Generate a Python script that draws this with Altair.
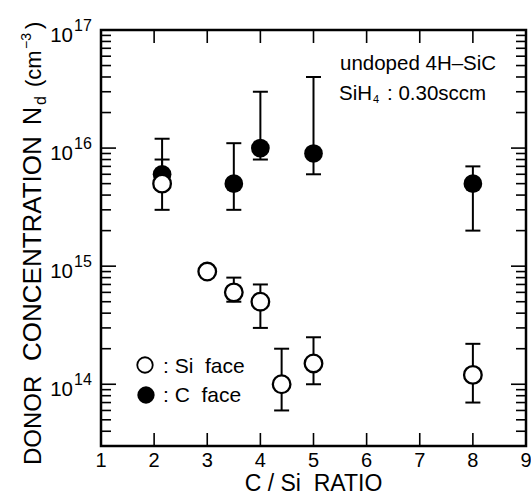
import altair as alt
import pandas as pd

# ---------------- data ----------------
si_x = [2.15, 3.0, 3.5, 4.0, 4.4, 5.0, 8.0]
si_y = [5e15, 9e14, 6e14, 5e14, 1.0e14, 1.5e14, 1.2e14]
si_lo = [3e15, None, 5e14, 3e14, 6e13, 1.0e14, 7e13]
si_hi = [8e15, None, 8e14, 7e14, 2e14, 2.5e14, 2.2e14]

c_x = [2.15, 3.5, 4.0, 5.0, 8.0]
c_y = [6e15, 5e15, 1e16, 9e15, 5e15]
c_lo = [6e15, 3e15, 8e15, 6e15, 2e15]
c_hi = [1.2e16, 1.1e16, 3e16, 4e16, 7e15]

x_tick_values = [1, 2, 3, 4, 5, 6, 7, 8, 9]
x_tick_labels = ["1", "2", "3", "4", "5", "6", "7", "8", "9"]
y_decades = [1e14, 1e15, 1e16, 1e17]
y_exponents = ["14", "15", "16", "17"]
y_minor = [k * 10.0 ** n for n in [13, 14, 15, 16] for k in range(2, 10) if k * 10.0 ** n >= 4e13]

NB = "\u00a0"
legend_labels = [":" + NB + "Si" + NB * 2 + "face", ":" + NB + "C" + NB * 2 + "face"]
note_line1 = "undoped 4H\u2013SiC"

FONT = "Liberation Sans"
W, H = 425, 416

xs = alt.Scale(domain=[1, 9], nice=False, zero=False)
ys = alt.Scale(type="log", domain=[3e13, 1e17], nice=False)

si_df = pd.DataFrame({"x": si_x, "y": si_y, "lo": si_lo, "hi": si_hi})
c_df = pd.DataFrame({"x": c_x, "y": c_y, "lo": c_lo, "hi": c_hi})
err_df = pd.concat([si_df, c_df]).dropna()
cap_df = pd.concat([
    err_df[["x", "lo"]].rename(columns={"lo": "v"}),
    err_df[["x", "hi"]].rename(columns={"hi": "v"}),
])

dec_df = pd.DataFrame({"v": y_decades, "e": y_exponents})
minor_df = pd.DataFrame({"v": y_minor})
xt_df = pd.DataFrame({"v": x_tick_values, "t": x_tick_labels})
xt_inner = xt_df[(xt_df.v > 1) & (xt_df.v < 9)]
one = pd.DataFrame({"a": [0]})

X = lambda f: alt.X(f, type="quantitative", scale=xs, axis=None)
Y = lambda f: alt.Y(f, type="quantitative", scale=ys, axis=None)

layers = []

# --- inward ticks ---
tick_style = dict(color="black", strokeWidth=1.6)
for (x0, x1, dfm) in [(0, 10, minor_df), (0, 15, dec_df), (W, W - 10, minor_df), (W, W - 15, dec_df)]:
    layers.append(alt.Chart(dfm).mark_rule(**tick_style).encode(
        y=Y("v"), x=alt.value(x0), x2=alt.value(x1)))
for (y0, y1) in [(0, 13), (H, H - 13)]:
    layers.append(alt.Chart(xt_inner).mark_rule(**tick_style).encode(
        x=X("v"), y=alt.value(y0), y2=alt.value(y1)))

# --- tick labels ---
layers.append(alt.Chart(xt_df).mark_text(font=FONT, fontSize=20, baseline="alphabetic", align="center", dy=21).encode(
    x=X("v"), y=alt.value(H), text="t:N"))
layers.append(alt.Chart(dec_df).mark_text(text="10", font=FONT, fontSize=20.5, baseline="alphabetic", align="right", dy=12).encode(
    y=Y("v"), x=alt.value(-28)))
layers.append(alt.Chart(dec_df).mark_text(font=FONT, fontSize=16, baseline="alphabetic", align="left", dy=1).encode(
    y=Y("v"), x=alt.value(-27), text="e:N"))

# --- axis titles ---
layers.append(alt.Chart(one).mark_text(text="C" + NB + "/" + NB + "Si" + NB * 2 + "RATIO", font=FONT, fontSize=23,
                                       align="center", baseline="alphabetic").encode(
    x=alt.value(W / 2), y=alt.value(H + 45)))
ytitle_parts = [
    ("DONOR", 24, -60, 435),
    ("CONCENTRATION", 26, -60, 331),
    ("N", 25, -60, 95),
    ("d", 16, -55, 75),
    ("(cm", 22, -60, 57),
    ("\u22123", 14, -70, 19),
    (")", 22, -60, -1),
]
for (txt, fs, px, py) in ytitle_parts:
    layers.append(alt.Chart(one).mark_text(text=txt, font=FONT, fontSize=fs, angle=270, align="left", baseline="alphabetic").encode(
        x=alt.value(px), y=alt.value(py)))

# --- annotation ---
layers.append(alt.Chart(one).mark_text(text=note_line1, font=FONT, fontSize=20.5, align="left", baseline="alphabetic").encode(
    x=alt.value(239), y=alt.value(40)))
layers.append(alt.Chart(one).mark_text(text="SiH", font=FONT, fontSize=20.5, align="left", baseline="alphabetic").encode(
    x=alt.value(238), y=alt.value(70)))
layers.append(alt.Chart(one).mark_text(text="4", font=FONT, fontSize=11, align="left", baseline="alphabetic").encode(
    x=alt.value(272), y=alt.value(73)))
layers.append(alt.Chart(one).mark_text(text=":" + NB + "0.30sccm", font=FONT, fontSize=20.5, align="left", baseline="alphabetic").encode(
    x=alt.value(286), y=alt.value(70)))

# --- legend ---
layers.append(alt.Chart(one).mark_point(shape="circle", filled=True, fill="white", stroke="black", strokeWidth=1.8, size=240, opacity=1).encode(
    x=alt.value(44), y=alt.value(335)))
layers.append(alt.Chart(one).mark_circle(color="black", size=300, opacity=1).encode(
    x=alt.value(45), y=alt.value(365)))
for i, lab in enumerate(legend_labels):
    layers.append(alt.Chart(one).mark_text(text=lab, font=FONT, fontSize=21, align="left", baseline="alphabetic").encode(
        x=alt.value(62), y=alt.value(343 + 29 * i)))

# --- error bars ---
layers.append(alt.Chart(err_df).mark_rule(color="black", strokeWidth=2).encode(
    x=X("x"), y=Y("lo"), y2="hi"))
layers.append(alt.Chart(cap_df).mark_tick(orient="horizontal", color="black", size=15, thickness=2, opacity=1).encode(
    x=X("x"), y=Y("v")))

# --- data points ---
layers.append(alt.Chart(c_df).mark_circle(color="black", size=350, opacity=1).encode(
    x=X("x"), y=Y("y")))
layers.append(alt.Chart(si_df).mark_point(shape="circle", filled=True, fill="white", stroke="black", strokeWidth=2.3, size=310, opacity=1).encode(
    x=X("x"), y=Y("y")))

chart = alt.layer(*layers).properties(
    width=W, height=H,
    autosize=alt.AutoSizeParams(type="none"),
    padding={"left": 101, "top": 30, "right": 5, "bottom": 56},
    background="white",
).configure_view(stroke="black", strokeWidth=2.5)

chart.save("out.html", embed_options={"renderer": "svg", "actions": False})
